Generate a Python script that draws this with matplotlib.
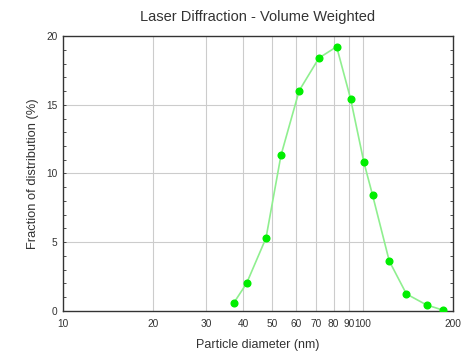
import numpy as np
import matplotlib
matplotlib.use('Agg')
import matplotlib.pyplot as plt
from matplotlib.ticker import FixedLocator, FixedFormatter, MultipleLocator

plt.rcParams['font.family'] = ['Liberation Sans', 'DejaVu Sans']

# particle diameter (nm) and volume fraction (%)
diameter = [37.2, 41.0, 47.6, 53.4, 61.4, 71.5, 81.9, 91.2, 101, 108, 122.7, 140, 163.5, 185]
fraction = [0.60, 2.01, 5.31, 11.32, 16.02, 18.4, 19.22, 15.42, 10.81, 8.41, 3.64, 1.24, 0.44, 0.07]

xticks = [10, 20, 30, 40, 50, 60, 70, 80, 90, 100, 200]
xlabels = ['10', '20', '30', '40', '50', '60', '70', '80', '90', '100', '200']
yticks = [0, 5, 10, 15, 20]

fig = plt.figure(figsize=(4.63, 3.53), dpi=100)
ax = fig.add_axes([0.136, 0.119, 0.842, 0.779])

ax.plot(diameter, fraction, color='#8fef8f', lw=1.2, zorder=3)
ax.plot(diameter, fraction, 'o', color='#00ee00', ms=4.8, mec='#00ee00', zorder=4)

ax.set_xscale('log')
ax.set_xlim(10, 200)
ax.set_ylim(0, 20)
ax.xaxis.set_major_locator(FixedLocator(xticks))
ax.xaxis.set_major_formatter(FixedFormatter(xlabels))
ax.xaxis.set_minor_locator(FixedLocator([]))
ax.set_yticks(yticks)
ax.yaxis.set_minor_locator(MultipleLocator(1))

# grid only between the edges
for x in xticks[1:-1]:
    ax.axvline(x, color='#cccccc', lw=0.8, zorder=1)
for y in yticks[1:-1]:
    ax.axhline(y, color='#cccccc', lw=0.8, zorder=1)

ax.tick_params(which='both', direction='in', right=True, top=False,
               labelsize=7.3, colors='#333333', length=2, width=0.6)
ax.tick_params(axis='y', pad=4)
ax.tick_params(axis='x', length=0, pad=6)
for s in ax.spines.values():
    s.set_color('#333333')
    s.set_linewidth(1.0)

ax.set_title('Laser Diffraction - Volume Weighted', fontsize=10.5, color='#333333', pad=11)
ax.set_xlabel('Particle diameter (nm)', fontsize=9, color='#333333', labelpad=7)
ax.set_ylabel('Fraction of distribution (%)', fontsize=9.3, color='#333333', labelpad=5)

fig.savefig('out.png', dpi=100)
